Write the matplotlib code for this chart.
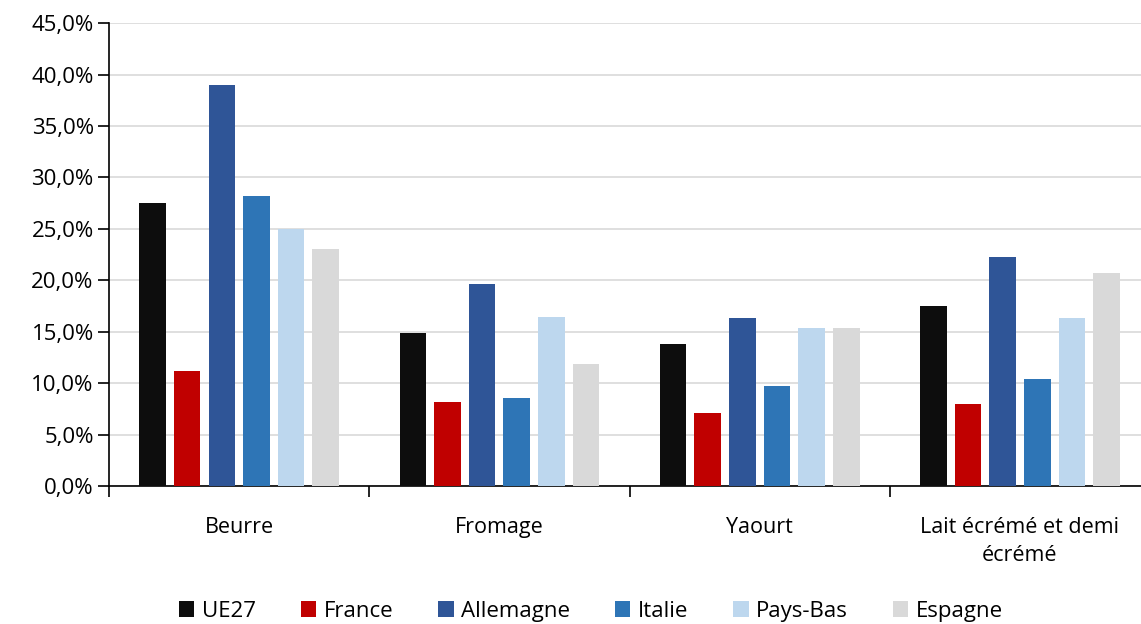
import numpy as np
import matplotlib.pyplot as plt
from matplotlib.ticker import FuncFormatter

categories = ["Beurre", "Fromage", "Yaourt", "Lait écrémé et demi\nécrémé"]
series = ["UE27", "France", "Allemagne", "Italie", "Pays-Bas", "Espagne"]
ue27 = [27.5, 14.9, 13.8, 17.5]
france = [11.2, 8.2, 7.1, 8.0]
allemagne = [39.0, 19.6, 16.3, 22.3]
italie = [28.2, 8.6, 9.7, 10.4]
pays_bas = [25.0, 16.4, 15.4, 16.3]
espagne = [23.0, 11.9, 15.4, 20.7]
colors = ["#0d0d0d", "#c00000", "#2f5597", "#2e75b6", "#bdd7ee", "#d9d9d9"]

values = [ue27, france, allemagne, italie, pays_bas, espagne]

plt.rcParams['font.family'] = ['Open Sans', 'DejaVu Sans']

fig = plt.figure(figsize=(11.41, 6.24), dpi=100)
ax = fig.add_axes([0.0955, 0.221, 1.008 - 0.0955, 0.963 - 0.221])

x = np.arange(len(categories))
step = 0.133
width = 0.102
for i, (name, vals) in enumerate(zip(series, values)):
    ax.bar(x + (i - 2.5) * step, vals, width, color=colors[i], label=name, zorder=3)

ax.set_xlim(-0.5, len(categories) - 0.5)
ax.set_ylim(0, 45)
ax.set_yticks(np.arange(0, 46, 5))
ax.yaxis.set_major_formatter(FuncFormatter(lambda v, p: f"{v:.1f}%".replace(".", ",")))
ax.grid(axis='y', color='#d9d9d9', linewidth=1.2, zorder=0)
for s in ['top', 'right']:
    ax.spines[s].set_visible(False)
ax.spines['left'].set_linewidth(1.2)
ax.spines['bottom'].set_linewidth(1.2)

ax.set_xticks(np.arange(-0.5, len(categories), 1.0))
ax.set_xticklabels([])
ax.set_xticks(x, minor=True)
ax.set_xticklabels(categories, minor=True, fontsize=15.5, linespacing=1.45)
ax.tick_params(axis='x', which='major', length=8, width=1.2, direction='out')
ax.tick_params(axis='x', which='minor', length=0, pad=22)
ax.tick_params(axis='y', length=8, width=1.2, labelsize=16, pad=3)

ax.legend(loc='center', bbox_to_anchor=(0.463, -0.27),
          ncol=6, frameon=False, handlelength=0.7, handleheight=0.7, handletextpad=0.35,
          columnspacing=2.0, prop={'size': 16})

fig.savefig('out.png', dpi=100)
